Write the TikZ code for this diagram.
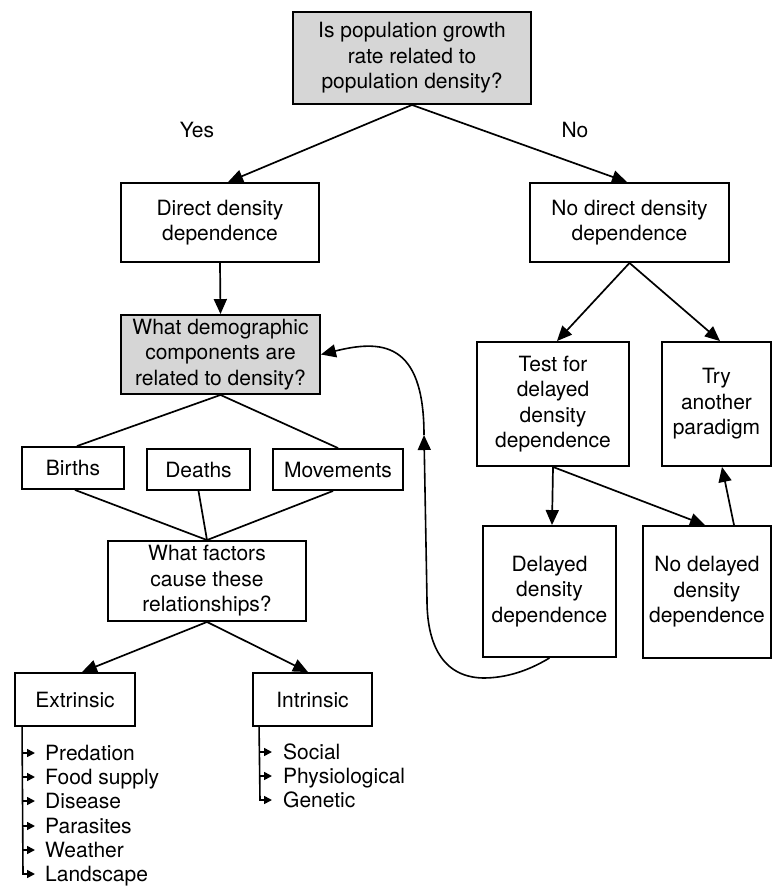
\documentclass[tikz,border=0pt]{standalone}
\usepackage{fontspec}
\setmainfont{TeX Gyre Heros}
\usetikzlibrary{arrows.meta,calc}
\definecolor{qgray}{HTML}{D6D6D6}
\newcommand\diagfont{\fontsize{21}{25.5}\selectfont}
\begin{document}
\begin{tikzpicture}[x=1pt,y=-1pt,
  box/.style={draw, line width=1.9pt, align=center, inner sep=0pt, font=\diagfont},
  lbl/.style={inner sep=0pt, font=\diagfont},
  item/.style={anchor=west, inner sep=0pt, text height=15pt, text depth=0pt, font=\diagfont},
  conn/.style={line width=1.7pt},
  arr/.style={conn, -{Triangle[length=15pt,width=13pt]}},
  small/.style={line width=1.6pt, -{Triangle[length=8pt,width=8pt]}}]
\useasboundingbox (0,0) rectangle (773,886);

% boxes
\node[box, fill=qgray, minimum width=238pt, minimum height=92pt] (top) at (412,58)
  {Is population growth\\rate related to\\population density?};
\node[box, minimum width=198pt, minimum height=79pt] (direct) at (220,222.5)
  {Direct density\\dependence};
\node[box, minimum width=199pt, minimum height=79pt] (nodirect) at (629.5,222.5)
  {No direct density\\dependence};
\node[box, fill=qgray, minimum width=199pt, minimum height=79pt] (demo) at (220.5,354.5)
  {What demographic\\components are\\related to density?};
\node[box, minimum width=102pt, minimum height=42pt] (births) at (73,468) {Births};
\node[box, minimum width=103pt, minimum height=41pt] (deaths) at (198.5,469.5) {Deaths};
\node[box, minimum width=130pt, minimum height=41pt] (moves) at (338,469.5) {Movements};
\node[box, minimum width=198pt, minimum height=80pt] (factors) at (207,581)
  {What factors\\cause these\\relationships?};
\node[box, minimum width=120pt, minimum height=53pt] (extr) at (75,699.5) {Extrinsic};
\node[box, minimum width=119pt, minimum height=53pt] (intr) at (312.5,699.5) {Intrinsic};
\node[box, minimum width=152pt, minimum height=124pt] (test) at (553,404)
  {Test for\\delayed\\density\\dependence};
\node[box, minimum width=109pt, minimum height=124pt] (try) at (716.5,404)
  {Try\\another\\paradigm};
\node[box, minimum width=133pt, minimum height=131pt] (delayed) at (549.5,591.5)
  {Delayed\\density\\dependence};
\node[box, minimum width=128pt, minimum height=132pt] (nodelayed) at (707,592)
  {No delayed\\density\\dependence};

% labels
\node[lbl] (yes) at (197,130) {Yes};
\node[lbl] (no) at (575,130) {No};

% connectors
\draw[arr] (top.south) -- ($(direct.north)+(8,0)$);
\draw[arr] (top.south) -- ($(nodirect.north)+(-2.5,0)$);
\draw[arr] (direct.south) -- (demo.north);
\draw[conn] ($(births.north)+(4,0)$) -- (demo.south) -- (moves.north);
\draw[conn] ($(births.south)+(2,0)$) -- (factors.north);
\draw[conn] (deaths.south) -- (factors.north);
\draw[conn] ($(moves.south)+(-5,0)$) -- (factors.north);
\draw[arr] (factors.south) -- ($(extr.north)+(7,0)$);
\draw[arr] (factors.south) -- ($(intr.north)+(-4.5,0)$);
\draw[arr] (nodirect.south) -- ($(test.north)+(4,0)$);
\draw[arr] (nodirect.south) -- ($(try.north)+(3.5,0)$);
\draw[arr] (test.south) -- ($(delayed.north)+(2.5,0)$);
\draw[arr] (test.south) -- ($(nodelayed.north)+(-2,0)$);
\draw[arr] ($(nodelayed.north)+(27,0)$) -- ($(try.south)+(5.5,0)$);

% feedback curve
\coordinate (mid) at (424,435);
\draw[line width=1.6pt, -{Triangle[length=15pt,width=13pt]}] (delayed.south)
  .. controls (528,671) and (506,678) .. (483,678)
  .. controls (441,677) and (427,642) .. (427,600) -- (mid);
\draw[line width=1.6pt, -{Triangle[length=15pt,width=13pt]}] (mid)
  .. controls (424,340) and (380,340) .. (demo.east);

% extrinsic list
\coordinate (ex0) at ($(extr.south west)+(8,0)$);
\foreach \t/\y [count=\i] in {Predation/753, Food supply/777, Disease/801, Parasites/826, Weather/850} {
  \node[item] (ex\i) at (45,\y) {\t};
  \draw[small] (23,\y) -- (35,\y);
}
\node[item] (ex6) at (45,874) {Landscape};
\draw[small] (ex0) -- (23,874) -- (35,874);

% intrinsic list
\coordinate (in0) at ($(intr.south west)+(7,0)$);
\foreach \t/\y [count=\i] in {Social/752, Physiological/776} {
  \node[item] (in\i) at (283,\y) {\t};
  \draw[small] (260,\y) -- (272,\y);
}
\node[item] (in3) at (283,800) {Genetic};
\draw[small] (in0) -- (260,800) -- (272,800);
\end{tikzpicture}
\end{document}
